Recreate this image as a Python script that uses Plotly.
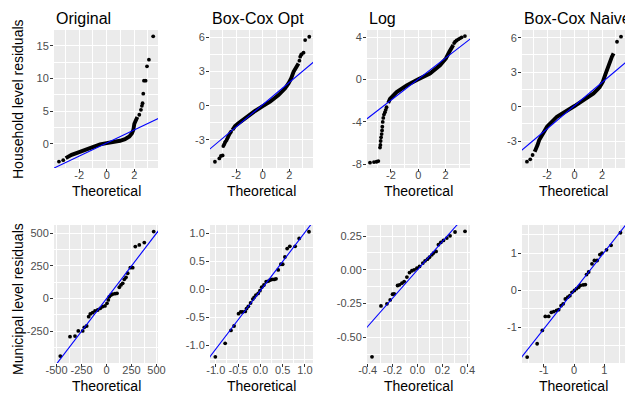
import plotly.graph_objects as go

# ---------------- DATA ----------------
# Household level residuals: dense core of the QQ cloud + sparse tail points
hh_orig_core_x = [-2.98, -2.55, -2.0, -1.45, -0.97, -0.48, 0.0, 0.48, 0.97, 1.33, 1.65, 1.84, 1.94, 2.01, 2.11, 2.23]
hh_orig_core_y = [-2.19, -1.68, -1.27, -0.82, -0.41, -0.1, 0.1, 0.26, 0.46, 0.71, 1.12, 1.63, 2.14, 3.06, 3.67, 4.1]
hh_orig_tail_x = [-3.47, -3.16, 2.37, 2.49, 2.56, 2.61, 2.66, 2.71, 2.83, 2.93, 3.07, 3.38]
hh_orig_tail_y = [-2.71, -2.5, 4.44, 5.2, 5.8, 6.2, 7.66, 9.65, 9.65, 11.84, 12.86, 16.43]

hh_bcopt_core_x = [-2.28, -2.08, -1.83, -1.2, -0.58, 0.0, 0.55, 1.18, 1.68, 1.93, 2.13, 2.31, 2.43, 2.56, 2.68]
hh_bcopt_core_y = [-2.13, -1.78, -1.55, -0.96, -0.46, -0.03, 0.35, 0.94, 1.53, 1.96, 2.4, 2.98, 3.27, 3.56, 3.7]
hh_bcopt_tail_x = [-3.59, -3.26, -3.14, -3.01, -2.96, -2.9, -2.84, -2.78, -2.71, -2.65, -2.59, -2.52, -2.46, -2.38, 2.75, 2.81, 2.87, 2.93, 3.06, 3.18, 3.49]
hh_bcopt_tail_y = [-4.91, -4.62, -4.41, -4.36, -3.54, -3.4, -3.24, -3.12, -3.0, -2.85, -2.7, -2.55, -2.41, -2.28, 3.95, 4.3, 4.45, 4.53, 4.65, 5.76, 6.05]

hh_log_core_x = [-2.2, -2.07, -1.58, -0.85, 0.0, 0.85, 1.59, 2.02, 2.27, 2.56]
hh_log_core_y = [-2.2, -1.81, -1.18, -0.54, 0.03, 0.57, 1.36, 2.0, 2.63, 3.27]
hh_log_tail_x = [-3.53, -3.24, -3.05, -2.92, -2.8, -2.77, -2.75, -2.72, -2.68, -2.65, -2.63, -2.6, -2.56, -2.51, -2.44, -2.38, -2.32, 2.62, 2.69, 2.8, 2.93, 3.05, 3.17, 3.41]
hh_log_tail_y = [-7.85, -7.79, -7.76, -7.7, -6.42, -6.17, -5.8, -5.45, -5.14, -4.8, -4.45, -4.0, -3.62, -3.3, -3.08, -2.85, -2.61, 3.45, 3.58, 3.7, 3.81, 3.9, 4.0, 4.12]

hh_bcnaive_core_x = [-2.9, -2.78, -2.69, -2.57, -2.42, -2.25, -2.0, -1.28, -0.55, 0.0, 0.65, 1.38, 1.82, 2.06, 2.23, 2.35, 2.55, 2.72, 2.84]
hh_bcnaive_core_y = [-3.91, -3.62, -3.33, -2.9, -2.6, -2.26, -1.74, -0.87, -0.37, 0.06, 0.58, 1.16, 1.68, 2.17, 2.76, 3.19, 3.77, 4.35, 4.64]
hh_bcnaive_tail_x = [-3.46, -3.22, -3.05, 3.09, 3.38]
hh_bcnaive_tail_y = [-4.78, -4.58, -4.2, 5.65, 6.09]

# Municipal level residuals (theoretical, sample)
mu_orig_x = [-462, -365, -315, -282, -238, -222, -198, -178, -162, -138, -115, -88, -62, -38, -15, 5, 18, 28, 45, 62, 85, 105, 128, 145, 162, 178, 195, 212, 238, 262, 288, 328, 378, 472]
mu_orig_y = [-439, -291, -286, -247, -247, -219, -209, -138, -117, -107, -94, -87, -74, -61, -56, -36, -10, 15, 28, 35, 38, 41, 87, 105, 117, 148, 163, 194, 237, 237, 398, 411, 429, 513]

mu_bcopt_x = [-1.01, -0.79, -0.66, -0.59, -0.49, -0.44, -0.40, -0.34, -0.31, -0.27, -0.22, -0.17, -0.14, -0.10, -0.05, -0.01, 0.03, 0.08, 0.13, 0.18, 0.22, 0.26, 0.31, 0.35, 0.40, 0.46, 0.50, 0.55, 0.60, 0.66, 0.78, 0.87, 1.09]
mu_bcopt_y = [-1.20, -0.96, -0.73, -0.65, -0.43, -0.40, -0.40, -0.39, -0.34, -0.30, -0.24, -0.17, -0.14, -0.10, -0.07, -0.02, 0.04, 0.08, 0.14, 0.15, 0.17, 0.18, 0.18, 0.19, 0.35, 0.45, 0.45, 0.58, 0.73, 0.77, 0.77, 0.91, 1.03]

mu_log_x = [-0.365, -0.293, -0.245, -0.219, -0.2, -0.187, -0.16, -0.144, -0.125, -0.107, -0.085, -0.064, -0.045, -0.027, -0.005, 0.016, 0.043, 0.061, 0.08, 0.096, 0.115, 0.128, 0.149, 0.168, 0.187, 0.208, 0.235, 0.261, 0.301, 0.381]
mu_log_y = [-0.644, -0.267, -0.252, -0.223, -0.181, -0.178, -0.116, -0.111, -0.099, -0.087, -0.054, -0.02, -0.007, 0.0, 0.012, 0.025, 0.05, 0.067, 0.079, 0.094, 0.111, 0.124, 0.136, 0.186, 0.203, 0.218, 0.235, 0.252, 0.28, 0.285]

mu_bcnaive_x = [-1.55, -1.22, -1.05, -0.95, -0.84, -0.75, -0.67, -0.58, -0.51, -0.43, -0.36, -0.29, -0.21, -0.14, -0.07, 0.01, 0.08, 0.15, 0.21, 0.30, 0.37, 0.41, 0.48, 0.59, 0.67, 0.76, 0.85, 0.92, 1.07, 1.22, 1.53]
mu_bcnaive_y = [-1.80, -1.44, -1.08, -0.70, -0.70, -0.59, -0.57, -0.54, -0.52, -0.41, -0.36, -0.23, -0.18, -0.14, -0.05, 0.0, 0.05, 0.09, 0.14, 0.15, 0.16, 0.43, 0.50, 0.72, 0.81, 0.81, 0.97, 1.01, 1.10, 1.22, 1.56]

# QQ reference lines (intercept, slope) per panel
qq_intercepts = [0.12, 0.1, 0.05, 0.1, 0.0, -0.02, 0.0, 0.0]
qq_slopes = [1.0, 0.98, 1.0, 1.01, 1.0, 1.04, 1.05, 1.04]

panel_titles = ["Original", "Box-Cox Opt", "Log", "Box-Cox Naive"]
row_titles = ["Household level residuals", "Municipal level residuals"]
x_title = "Theoretical"

# tick labels
hh_x_ticks = [-2, 0, 2]
hh_x_labels = ["-2", "0", "2"]
y_ticks_p1 = [0, 5, 10, 15]
y_labels_p1 = ["0", "5", "10", "15"]
y_ticks_bc = [-3, 0, 3, 6]
y_labels_bc = ["-3", "0", "3", "6"]
y_ticks_log = [-8, -4, 0, 4]
y_labels_log = ["-8", "-4", "0", "4"]
mu_orig_ticks = [-500, -250, 0, 250, 500]
mu_orig_xlabels = ["-500", "-250", "0", "250", "500"]
mu_orig_yticks = [-250, 0, 250, 500]
mu_orig_ylabels = ["-250", "0", "250", "500"]
mu_bcopt_ticks = [-1.0, -0.5, 0.0, 0.5, 1.0]
mu_bcopt_labels = ["-1.0", "-0.5", "0.0", "0.5", "1.0"]
mu_log_xticks = [-0.4, -0.2, 0.0, 0.2, 0.4]
mu_log_xlabels = ["-0.4", "-0.2", "0.0", "0.2", "0.4"]
mu_log_yticks = [-0.5, -0.25, 0.0, 0.25]
mu_log_ylabels = ["-0.50", "-0.25", "0.00", "0.25"]
mu_bcn_ticks = [-1, 0, 1]
mu_bcn_labels = ["-1", "0", "1"]

# ---------------- LAYOUT ----------------
W, H = 625, 394
FONT = "Liberation Sans, Arial, sans-serif"
col_px = [(54, 158), (210, 313), (367, 470), (522, 625)]
row_px = [(30, 168), (225, 363)]


def xdom(c):
    return [col_px[c][0] / W, col_px[c][1] / W]


def ydom(r):
    return [1 - row_px[r][1] / H, 1 - row_px[r][0] / H]


def minor_vals(ticks, lo, hi):
    step = (ticks[1] - ticks[0]) / 2.0
    vals = []
    v = ticks[0] - 4 * step
    while v <= hi + 1e-9:
        if v >= lo - 1e-9:
            vals.append(round(v, 6))
        v += step
    return vals


panels = [
    # (core_x, core_y, pts_x, pts_y, xrange, yrange, xt, xl, yt, yl)
    (hh_orig_core_x, hh_orig_core_y, hh_orig_tail_x, hh_orig_tail_y, [-3.83, 3.73], [-3.7, 17.4], hh_x_ticks, hh_x_labels, y_ticks_p1, y_labels_p1),
    (hh_bcopt_core_x, hh_bcopt_core_y, hh_bcopt_tail_x, hh_bcopt_tail_y, [-3.96, 3.77], [-5.46, 6.64], hh_x_ticks, hh_x_labels, y_ticks_bc, y_labels_bc),
    (hh_log_core_x, hh_log_core_y, hh_log_tail_x, hh_log_tail_y, [-3.75, 3.78], [-8.35, 4.69], hh_x_ticks, hh_x_labels, y_ticks_log, y_labels_log),
    (hh_bcnaive_core_x, hh_bcnaive_core_y, hh_bcnaive_tail_x, hh_bcnaive_tail_y, [-3.82, 3.67], [-5.33, 6.67], hh_x_ticks, hh_x_labels, y_ticks_bc, y_labels_bc),
    (None, None, mu_orig_x, mu_orig_y, [-525, 515], [-492, 563], mu_orig_ticks, mu_orig_xlabels, mu_orig_yticks, mu_orig_ylabels),
    (None, None, mu_bcopt_x, mu_bcopt_y, [-1.13, 1.18], [-1.31, 1.15], mu_bcopt_ticks, mu_bcopt_labels, mu_bcopt_ticks, mu_bcopt_labels),
    (None, None, mu_log_x, mu_log_y, [-0.405, 0.421], [-0.69, 0.332], mu_log_xticks, mu_log_xlabels, mu_log_yticks, mu_log_ylabels),
    (None, None, mu_bcnaive_x, mu_bcnaive_y, [-1.72, 1.68], [-1.96, 1.77], mu_bcn_ticks, mu_bcn_labels, mu_bcn_ticks, mu_bcn_labels),
]

fig = go.Figure()
layout = dict(
    width=W, height=H, margin=dict(l=0, r=0, t=0, b=0, autoexpand=False),
    paper_bgcolor="white", plot_bgcolor="#EBEBEB",
    showlegend=False, font=dict(family=FONT, color="black"),
)
annotations = []

for i, (cx, cy, px, py, xr, yr, xt, xl, yt, yl) in enumerate(panels):
    n = i + 1
    r, c = divmod(i, 4)
    xa = "x" if n == 1 else f"x{n}"
    ya = "y" if n == 1 else f"y{n}"
    if cx is not None:
        fig.add_trace(go.Scatter(x=cx, y=cy, mode="lines", xaxis=xa, yaxis=ya,
                                 line=dict(color="black", width=3.9), hoverinfo="skip"))
    fig.add_trace(go.Scatter(x=px, y=py, mode="markers", xaxis=xa, yaxis=ya,
                             marker=dict(color="black", size=3.8, line=dict(width=0))))
    span = xr[1] - xr[0]
    lx = [xr[0] - span, xr[1] + span]
    ly = [qq_intercepts[i] + qq_slopes[i] * v for v in lx]
    fig.add_trace(go.Scatter(x=lx, y=ly, mode="lines", xaxis=xa, yaxis=ya,
                             line=dict(color="#0000FF", width=1.1), hoverinfo="skip"))

    common = dict(showgrid=True, gridcolor="white", gridwidth=1.1, zeroline=False,
                  showline=False, ticks="outside", ticklen=3, tickwidth=1, automargin=False,
                  tickcolor="#333333", tickfont=dict(size=11, color="#4D4D4D", family=FONT),
                  tickmode="array")
    layout["xaxis" if n == 1 else f"xaxis{n}"] = dict(
        common, domain=xdom(c), range=xr, tickvals=xt, ticktext=xl,
        anchor=ya, ticklabelstandoff=-6,
        minor=dict(tickmode="array", tickvals=minor_vals(xt, xr[0], xr[1]),
                   showgrid=True, gridcolor="white", gridwidth=0.5, ticks=""))
    layout["yaxis" if n == 1 else f"yaxis{n}"] = dict(
        common, domain=ydom(r), range=yr, tickvals=yt, ticktext=yl,
        anchor=xa, ticklabelstandoff=-1,
        minor=dict(tickmode="array", tickvals=minor_vals(yt, yr[0], yr[1]),
                   showgrid=True, gridcolor="white", gridwidth=0.5, ticks=""))

    # x axis title
    cxp = (col_px[c][0] + col_px[c][1]) / 2 / W
    ty = 191 if r == 0 else 386
    annotations.append(dict(text=x_title, x=cxp, y=1 - ty / H, xref="paper", yref="paper",
                            xanchor="center", yanchor="middle", showarrow=False,
                            font=dict(size=14, color="black", family=FONT)))

for c, t in enumerate(panel_titles):
    annotations.append(dict(text=t, x=col_px[c][0] / W, y=1 - 18 / H, xref="paper", yref="paper",
                            xanchor="left", yanchor="middle", showarrow=False,
                            font=dict(size=16, color="black", family=FONT)))

for r, t in enumerate(row_titles):
    annotations.append(dict(text=t, x=18 / W, y=1 - (99 if r == 0 else 299) / H,
                            xref="paper", yref="paper", xanchor="center", yanchor="middle",
                            textangle=-90, showarrow=False,
                            font=dict(size=14, color="black", family=FONT)))

layout["annotations"] = annotations
fig.update_layout(**layout)
fig.write_html("out.html")
